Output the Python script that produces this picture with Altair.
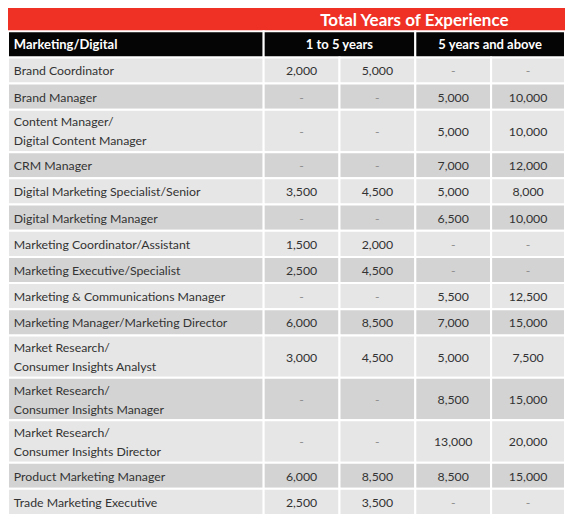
import altair as alt
import pandas as pd

# ---------------- data ----------------
title = "Total Years of Experience"
header_first = "Marketing/Digital"
group_labels = ["1 to 5 years", "5 years and above"]

roles = [
    "Brand Coordinator",
    "Brand Manager",
    "Content Manager/\nDigital Content Manager",
    "CRM Manager",
    "Digital Marketing Specialist/Senior",
    "Digital Marketing Manager",
    "Marketing Coordinator/Assistant",
    "Marketing Executive/Specialist",
    "Marketing & Communications Manager",
    "Marketing Manager/Marketing Director",
    "Market Research/\nConsumer Insights Analyst",
    "Market Research/\nConsumer Insights Manager",
    "Market Research/\nConsumer Insights Director",
    "Product Marketing Manager",
    "Trade Marketing Executive",
]
low_1_5 = [2000, None, None, None, 3500, None, 1500, 2500, None, 6000, 3000, None, None, 6000, 2500]
high_1_5 = [5000, None, None, None, 4500, None, 2000, 4500, None, 8500, 4500, None, None, 8500, 3500]
low_5_up = [None, 5000, 5000, 7000, 5000, 6500, None, None, 5500, 7000, 5000, 8500, 13000, 8500, None]
high_5_up = [None, 10000, 10000, 12000, 8000, 10000, None, None, 12500, 15000, 7500, 15000, 20000, 15000, None]

# ---------------- layout (units) ----------------
TOTAL_W = 573
COL_EDGES = [0, 263, 341, 419, 497, 573]
GROUP_EDGES = [263, 419, 573]
BAND_H = 24
HEAD_H = 27
ROW_H1 = 27
ROW_H2 = 43.75
LINE_H = 19

RED = "#EE3124"
BLACK = "#050505"
LIGHT = "#E6E6E6"
DARK = "#D3D3D3"
TEXT = "#333333"
DASH = "#8C8C8C"
FONT = "Lato"
BODY_SIZE = 12.3

rects = []
texts_center = []
texts_left1 = []
texts_left2 = []
head_center = []
head_left = []

# red title band
rects.append(dict(x0=0, x1=TOTAL_W, y0=0, y1=BAND_H, fill=RED, sw=0))
title_df = pd.DataFrame([dict(x=(GROUP_EDGES[0] + GROUP_EDGES[-1]) / 2, y=BAND_H / 2 + 1, t=title)])

# black header row
h0, h1 = BAND_H, BAND_H + HEAD_H
rects.append(dict(x0=0, x1=COL_EDGES[1], y0=h0, y1=h1, fill=BLACK, sw=2))
head_left.append(dict(x=6, y=(h0 + h1) / 2 + 1, t=header_first))
for i, g in enumerate(group_labels):
    a, b = GROUP_EDGES[i], GROUP_EDGES[i + 1]
    rects.append(dict(x0=a, x1=b, y0=h0, y1=h1, fill=BLACK, sw=2))
    head_center.append(dict(x=(a + b) / 2, y=(h0 + h1) / 2 + 1, t=g))

# body
series = [low_1_5, high_1_5, low_5_up, high_5_up]
y = h1
for r, role in enumerate(roles):
    two = "\n" in role
    h = ROW_H2 if two else ROW_H1
    fill = LIGHT if r % 2 == 0 else DARK
    y0, y1 = y, y + h
    ym = (y0 + y1) / 2 + 1
    rects.append(dict(x0=COL_EDGES[0], x1=COL_EDGES[1], y0=y0, y1=y1, fill=fill, sw=2))
    (texts_left2 if two else texts_left1).append(dict(x=6, y=ym, t=role))
    for c, s in enumerate(series):
        a, b = COL_EDGES[c + 1], COL_EDGES[c + 2]
        rects.append(dict(x0=a, x1=b, y0=y0, y1=y1, fill=fill, sw=2))
        v = s[r]
        if v is None:
            texts_center.append(dict(x=(a + b) / 2, y=ym, t="-", col=DASH))
        else:
            texts_center.append(dict(x=(a + b) / 2, y=ym, t=f"{v:,}", col=TEXT))
    y = y1
TOTAL_H = y

xs = alt.Scale(domain=[0, TOTAL_W], nice=False, zero=False)
ys = alt.Scale(domain=[0, TOTAL_H], nice=False, zero=False, reverse=True)
X = alt.X("x:Q", scale=xs, axis=None)
Y = alt.Y("y:Q", scale=ys, axis=None)

rect_layer = alt.Chart(pd.DataFrame(rects)).mark_rect(stroke="white").encode(
    x=alt.X("x0:Q", scale=xs, axis=None),
    x2="x1:Q",
    y=alt.Y("y0:Q", scale=ys, axis=None),
    y2="y1:Q",
    fill=alt.Fill("fill:N", scale=None),
    strokeWidth=alt.StrokeWidth("sw:Q", scale=None),
)

title_layer = alt.Chart(title_df).mark_text(
    font=FONT, fontSize=17, fontWeight="bold", color="white", align="center", baseline="middle"
).encode(x=X, y=Y, text="t:N")

head_c_layer = alt.Chart(pd.DataFrame(head_center)).mark_text(
    font=FONT, fontSize=13, fontWeight="bold", color="white", align="center", baseline="middle"
).encode(x=X, y=Y, text="t:N")

head_l_layer = alt.Chart(pd.DataFrame(head_left)).mark_text(
    font=FONT, fontSize=13, fontWeight="bold", color="white", align="left", baseline="middle"
).encode(x=X, y=Y, text="t:N")

label1_layer = alt.Chart(pd.DataFrame(texts_left1)).mark_text(
    font=FONT, fontSize=BODY_SIZE, color=TEXT, align="left", baseline="middle"
).encode(x=X, y=Y, text="t:N")

label2_layer = alt.Chart(pd.DataFrame(texts_left2)).mark_text(
    font=FONT, fontSize=BODY_SIZE, color=TEXT, align="left", baseline="middle",
    lineBreak="\n", lineHeight=LINE_H, dy=-LINE_H / 2
).encode(x=X, y=Y, text="t:N")

value_layer = alt.Chart(pd.DataFrame(texts_center)).mark_text(
    font=FONT, fontSize=BODY_SIZE, align="center", baseline="middle"
).encode(x=X, y=Y, text="t:N", color=alt.Color("col:N", scale=None))

chart = alt.layer(
    rect_layer, title_layer, head_c_layer, head_l_layer, label1_layer, label2_layer, value_layer
).properties(
    width=557, height=507, padding=0, autosize=alt.AutoSizeParams(type="none")
).configure_view(strokeWidth=0)

chart.save("out.html", embed_options={"renderer": "svg", "actions": False})
